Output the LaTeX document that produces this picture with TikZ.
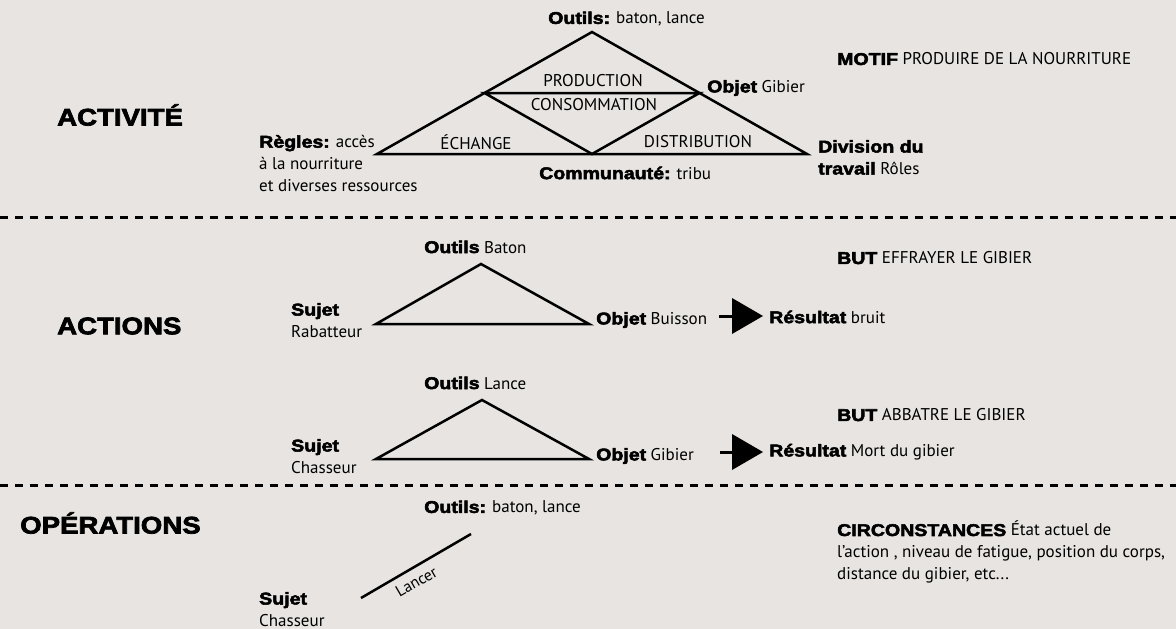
\documentclass[tikz,border=0pt]{standalone}
\usepackage{fontspec}
\setmainfont{PT Sans}
\newfontfamily\hvfont{Liberation Sans}[BoldFeatures={FakeBold=3, FakeStretch=1.15}]
\usetikzlibrary{calc}
\definecolor{bgc}{HTML}{E7E4E1}
\newcommand\hb[1]{{\hvfont\bfseries #1}}
\begin{document}
\begin{tikzpicture}[x=1pt,y=-1pt,
  lbl/.style={font=\fontsize{17}{22}\selectfont, inner sep=0pt},
  ttl/.style={font=\hvfont\bfseries\fontsize{24}{28}\selectfont, inner sep=0pt, anchor=west},
  tri/.style={line width=2.5pt, line join=miter},
  sepline/.style={line width=3pt, dash pattern=on 8pt off 7pt},
  shaft/.style={line width=3pt},
]
\fill[bgc] (0,0) rectangle (1176,629);
\useasboundingbox (0,0) rectangle (1176,629);

% separators
\coordinate (s1l) at (0,217); \coordinate (s1r) at (1176,217);
\coordinate (s2l) at (0,485); \coordinate (s2r) at (1176,485);
\draw[sepline] (s1l) -- (s1r);
\draw[sepline] (s2l) -- (s2r);

% titles
\node[ttl] (tAct) at (57,115) {ACTIVITÉ};
\node[ttl] (tActions) at (57,326) {ACTIONS};
\node[ttl] (tOps) at (20,523) {OPÉRATIONS};

% ===== Activity triangle =====
\coordinate (T) at (592,32);
\coordinate (L) at (377,154);
\coordinate (R) at (807,154);
\coordinate (B) at (592,154);
\coordinate (ML) at ($(T)!0.5!(L)$);
\coordinate (MR) at ($(T)!0.5!(R)$);
\draw[tri] (T) -- (L) -- (R) -- cycle;
\draw[tri] (ML) -- (MR) -- (B) -- cycle;

\node[lbl, anchor=west] (outils) at (548,19) {\hb{Outils:} baton, lance};
\node[lbl] (prod) at (593,81) {PRODUCTION};
\node[lbl] (cons) at (594,105) {CONSOMMATION};
\node[lbl] (ech) at (476,142) {ÉCHANGE};
\node[lbl] (dist) at (698,142) {DISTRIBUTION};
\node[lbl, anchor=west] (objet) at (707,88) {\hb{Objet} Gibier};
\node[lbl, anchor=north west, align=left] (regles) at (259,135) {\hb{Règles:} accès\\à la nourriture\\et diverses ressources};
\node[lbl, anchor=west] (comm) at (539,173) {\hb{Communauté:} tribu};
\node[lbl, anchor=north west, align=left] (div) at (818,140) {\hb{Division du}\\\hb{travail} Rôles};
\node[lbl, anchor=west] (motif) at (837,59) {\hb{MOTIF} PRODUIRE DE LA NOURRITURE};

% ===== Actions 1 =====
\coordinate (A1T) at (481,264);
\coordinate (A1L) at (376,324);
\coordinate (A1R) at (589,324);
\draw[tri] (A1T) -- (A1L) -- (A1R) -- cycle;
\node[lbl, anchor=west] (a1out) at (424,247) {\hb{Outils} Baton};
\node[lbl, anchor=north west, align=left] (a1suj) at (291,303) {\hb{Sujet}\\Rabatteur};
\node[lbl, anchor=west] (a1obj) at (596,320) {\hb{Objet} Buisson};
\node[lbl, anchor=west] (a1res) at (769,317) {\hb{Résultat} bruit};
\node[lbl, anchor=west] (a1but) at (837,258) {\hb{BUT} EFFRAYER LE GIBIER};
\coordinate (a1s) at (719,316); \coordinate (a1b) at (732,316); \coordinate (a1t) at (763,316);
\draw[shaft] (a1s) -- (a1b);
\fill ($(a1b)+(0,-18)$) -- (a1t) -- ($(a1b)+(0,18)$) -- cycle;

% ===== Actions 2 =====
\coordinate (A2T) at (482,400);
\coordinate (A2L) at (376,459);
\coordinate (A2R) at (589,459);
\draw[tri] (A2T) -- (A2L) -- (A2R) -- cycle;
\node[lbl, anchor=west] (a2out) at (424,383) {\hb{Outils} Lance};
\node[lbl, anchor=north west, align=left] (a2suj) at (291,439) {\hb{Sujet}\\Chasseur};
\node[lbl, anchor=west] (a2obj) at (596,456) {\hb{Objet} Gibier};
\node[lbl, anchor=west] (a2res) at (769,452) {\hb{Résultat} Mort du gibier};
\node[lbl, anchor=west] (a2but) at (837,415) {\hb{BUT} ABBATRE LE GIBIER};
\coordinate (a2s) at (720,452); \coordinate (a2b) at (732,452); \coordinate (a2t) at (763,452);
\draw[shaft] (a2s) -- (a2b);
\fill ($(a2b)+(0,-18)$) -- (a2t) -- ($(a2b)+(0,18)$) -- cycle;

% ===== Operations =====
\node[lbl, anchor=west] (oout) at (424,508) {\hb{Outils:} baton, lance};
\node[lbl, anchor=north west, align=left] (osuj) at (259,592) {\hb{Sujet}\\Chasseur};
\coordinate (o1) at (361,598); \coordinate (o2) at (471,534);
\draw[line width=2.5pt] (o1) -- node[lbl, font=\fontsize{16}{20}\selectfont, sloped, below=7pt, pos=0.44] (lancer) {Lancer} (o2);
\node[lbl, anchor=north west, align=left] (circ) at (837,521) {\hb{CIRCONSTANCES} État actuel de\\l’action , niveau de fatigue, position du corps,\\distance du gibier, etc...};
\end{tikzpicture}
\end{document}
